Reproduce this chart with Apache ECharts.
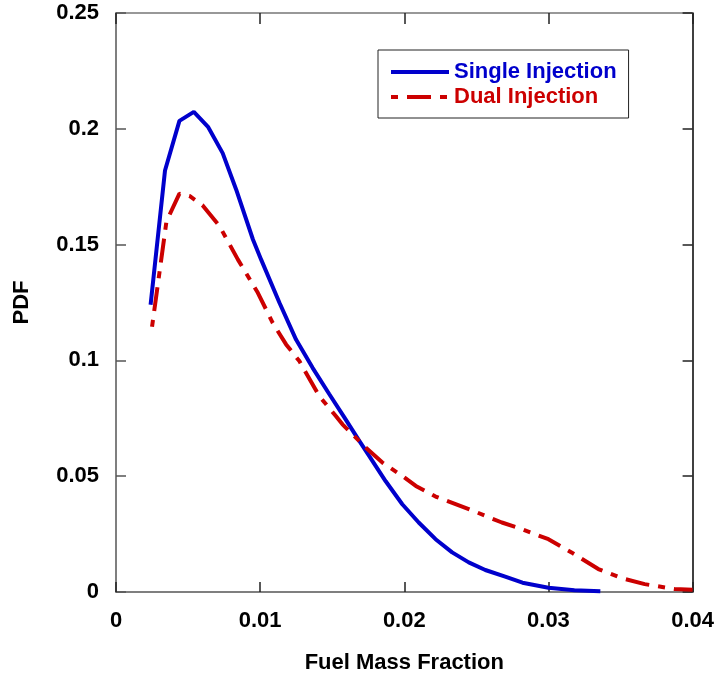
<!DOCTYPE html>
<html>
<head>
<meta charset="utf-8">
<script src="https://cdn.jsdelivr.net/npm/echarts@6/dist/echarts.min.js"></script>
<style>
	html, body { margin: 0; padding: 0; background: #fff; }
	#chartDiv { width: 717px; height: 679px; }
</style>
</head>
<body>
<div id="chartDiv"></div>
<script>
// values
var singleX = [0.0024, 0.0034, 0.0044, 0.0054, 0.0064, 0.0074, 0.00834, 0.0095, 0.01007, 0.01134, 0.01249, 0.01364, 0.01479, 0.01583, 0.0168, 0.01756, 0.01871, 0.01986, 0.0210, 0.02217, 0.02332, 0.02447, 0.02562, 0.0270, 0.0282, 0.0300, 0.0318, 0.0336];
var singleY = [0.124, 0.182, 0.2034, 0.2073, 0.2007, 0.1895, 0.1737, 0.1522, 0.1435, 0.1249, 0.1090, 0.0968, 0.0855, 0.0755, 0.0660, 0.0588, 0.0478, 0.0379, 0.0300, 0.0228, 0.0171, 0.0128, 0.0095, 0.0066, 0.0040, 0.0018, 0.0008, 0.0003];
var dualX = [0.0025, 0.0035, 0.0044, 0.0051, 0.0060, 0.00719, 0.00846, 0.00984, 0.01087, 0.0118, 0.01272, 0.0141, 0.01525, 0.01571, 0.01732, 0.01848, 0.01986, 0.0208, 0.02217, 0.02447, 0.02677, 0.0280, 0.0300, 0.0316, 0.03346, 0.03507, 0.03668, 0.03876, 0.0400];
var dualY = [0.1145, 0.160, 0.172, 0.171, 0.167, 0.1579, 0.1435, 0.1292, 0.1162, 0.1069, 0.0997, 0.0846, 0.0760, 0.0724, 0.0624, 0.0559, 0.0501, 0.0458, 0.0412, 0.0358, 0.0300, 0.0275, 0.0228, 0.0171, 0.0099, 0.0060, 0.0034, 0.0013, 0.0010];
var seriesNames = ['Single Injection', 'Dual Injection'];

function pairs(xs, ys) {
	var out = [];
	for (var i = 0; i < xs.length; i++) {
		out.push([xs[i], ys[i]]);
	}
	return out;
}

var chart = echarts.init(document.getElementById('chartDiv'));

var axisColor = '#555';
var font = 'Liberation Sans, Arial, sans-serif';
var fs = 22;

function numLabel(v) {
	return String(+v.toFixed(3));
}

var option = {
	animation: false,
	grid: {
		left: 116,
		right: 22,
		top: 13,
		bottom: 86
	},
	legend: {
		show: true,
		data: seriesNames,
		orient: 'vertical',
		left: 378,
		top: 50,
		itemWidth: 58,
		itemHeight: 22,
		itemGap: 3,
		padding: [11, 12, 10, 11],
		borderColor: '#222',
		borderWidth: 1,
		borderRadius: 0,
		itemStyle: { opacity: 0 },
		lineStyle: { width: 4 },
		formatter: function (name) {
			return name === seriesNames[0] ? '{b|' + name + '}' : '{r|' + name + '}';
		},
		textStyle: {
			fontFamily: font,
			fontSize: fs,
			fontWeight: 'bold',
			rich: {
				b: { color: '#0000cc', fontFamily: font, fontSize: fs, fontWeight: 'bold' },
				r: { color: '#cc0000', fontFamily: font, fontSize: fs, fontWeight: 'bold' }
			}
		}
	},
	xAxis: [
		{
			type: 'value',
			min: 0,
			max: 0.04,
			interval: 0.01,
			name: 'Fuel Mass Fraction',
			nameLocation: 'middle',
			nameGap: 60,
			nameTextStyle: {
				fontFamily: font,
				fontSize: fs,
				fontWeight: 'bold',
				color: '#000'
			},
			axisLine: { show: true, onZero: false, lineStyle: { color: axisColor, width: 1.5 } },
			axisTick: { show: true, inside: true, length: 10, lineStyle: { color: '#222', width: 1.5 } },
			axisLabel: {
				fontFamily: font,
				fontSize: fs,
				fontWeight: 'bold',
				color: '#000',
				margin: 18,
				formatter: numLabel
			},
			splitLine: { show: false }
		},
		{
			type: 'value',
			position: 'top',
			min: 0,
			max: 0.04,
			interval: 0.01,
			axisLine: { show: true, onZero: false, lineStyle: { color: '#777', width: 1.5 } },
			axisTick: { show: true, inside: true, length: 11, lineStyle: { color: '#222', width: 1.5 } },
			axisLabel: { show: false },
			splitLine: { show: false }
		}
	],
	yAxis: [
		{
			type: 'value',
			min: 0,
			max: 0.25,
			interval: 0.05,
			name: 'PDF',
			nameLocation: 'middle',
			nameGap: 83,
			nameTextStyle: {
				fontFamily: font,
				fontSize: fs,
				fontWeight: 'bold',
				color: '#000'
			},
			axisLine: { show: true, onZero: false, lineStyle: { color: axisColor, width: 1.5 } },
			axisTick: { show: true, inside: true, length: 10, lineStyle: { color: axisColor, width: 1.5 } },
			axisLabel: {
				fontFamily: font,
				fontSize: fs,
				fontWeight: 'bold',
				color: '#000',
				margin: 17,
				formatter: numLabel
			},
			splitLine: { show: false }
		},
		{
			type: 'value',
			position: 'right',
			min: 0,
			max: 0.25,
			interval: 0.05,
			axisLine: { show: true, onZero: false, lineStyle: { color: '#000', width: 1.5 } },
			axisTick: { show: true, inside: true, length: 10, lineStyle: { color: '#222', width: 1.5 } },
			axisLabel: { show: false },
			splitLine: { show: false }
		}
	],
	series: [
		{
			name: seriesNames[0],
			type: 'line',
			data: pairs(singleX, singleY),
			symbol: 'none',
			smooth: false,
			lineStyle: { color: '#0000cc', width: 4 },
			itemStyle: { color: '#0000cc' },
			z: 3
		},
		{
			name: seriesNames[1],
			type: 'line',
			data: pairs(dualX, dualY),
			symbol: 'none',
			smooth: false,
			lineStyle: { color: '#cc0000', width: 4, type: [24, 9, 7, 9], dashOffset: 33 },
			itemStyle: { color: '#cc0000' },
			z: 4
		}
	]
};

chart.setOption(option, true);
</script>
</body>
</html>
